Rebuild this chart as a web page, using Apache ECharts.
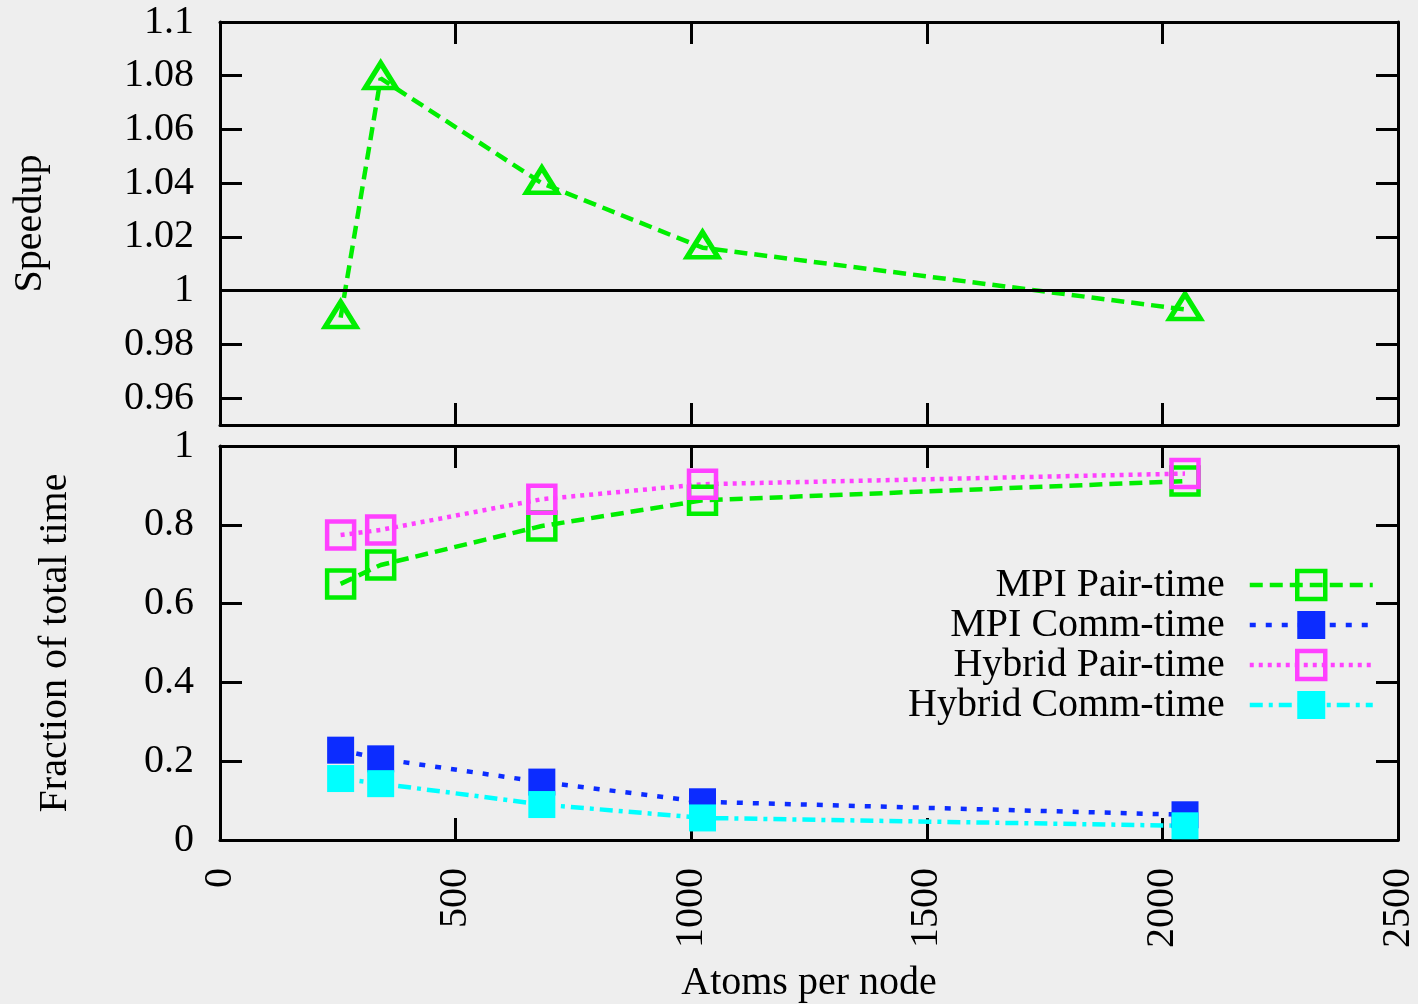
<!DOCTYPE html>
<html>
<head>
<meta charset="utf-8">
<script src="https://cdn.jsdelivr.net/npm/echarts@6/dist/echarts.min.js"></script>
<style>
html, body { margin: 0; padding: 0; background: #eeeeee; }
#chart { width: 1418px; height: 1004px; }
</style>
</head>
<body>
<div id="chart"></div>
<script>
// data
const atoms = [256, 341, 683, 1024, 2048];
const speedup = [0.990, 1.079, 1.040, 1.016, 0.993];
const mpiPair = [0.650, 0.698, 0.797, 0.862, 0.911];
const mpiComm = [0.228, 0.206, 0.147, 0.097, 0.064];
const hybridPair = [0.774, 0.787, 0.865, 0.903, 0.930];
const hybridComm = [0.156, 0.143, 0.090, 0.056, 0.036];
const speedupTicks = [0.96, 0.98, 1, 1.02, 1.04, 1.06, 1.08, 1.1];

const FONT = 'Liberation Serif';
const GREEN = '#00ee00', BLUE = '#0c2cff', MAGENTA = '#ff40ff', CYAN = '#00ffff';
const LW = 4.5;

const pairs = (ys) => atoms.map((x, i) => [x, ys[i]]);

const tick = { show: true, inside: true, length: 22, lineStyle: { color: '#000', width: 3 } };
const frame = { show: true, onZero: false, lineStyle: { color: '#000', width: 3 } };

function xAx(grid, pos, labels) {
  return {
    type: 'value', gridIndex: grid, position: pos, min: 0, max: 2500, interval: 500,
    axisLine: frame, axisTick: tick, splitLine: { show: false },
    axisLabel: labels ? {
      show: true, rotate: 90, margin: 28, fontFamily: FONT, fontSize: 40, color: '#000',
      formatter: (v) => String(v)
    } : { show: false },
    name: labels ? 'Atoms per node' : '', nameLocation: 'middle', nameGap: 123,
    nameTextStyle: { fontFamily: FONT, fontSize: 40, color: '#000' }
  };
}

const chart = echarts.init(document.getElementById('chart'), null, { renderer: 'canvas' });
chart.setOption({
  animation: false,
  backgroundColor: '#eeeeee',
  textStyle: { fontFamily: FONT },
  grid: [
    { left: 220, top: 22, width: 1178, height: 403 },
    { left: 220, top: 446, width: 1178, height: 394 }
  ],
  xAxis: [xAx(0, 'bottom', false), xAx(0, 'top', false), xAx(1, 'bottom', true), xAx(1, 'top', false)],
  yAxis: [
    {
      type: 'value', gridIndex: 0, position: 'left', min: 0.95, max: 1.1,
      axisLine: frame, splitLine: { show: false },
      axisTick: Object.assign({ customValues: speedupTicks }, tick),
      axisLabel: { customValues: speedupTicks, margin: 26, fontFamily: FONT, fontSize: 40, color: '#000' },
      name: 'Speedup', nameLocation: 'middle', nameRotate: 90, nameGap: 170,
      nameTextStyle: { fontFamily: FONT, fontSize: 40, color: '#000' }
    },
    {
      type: 'value', gridIndex: 0, position: 'right', min: 0.95, max: 1.1,
      axisLine: frame, splitLine: { show: false },
      axisTick: Object.assign({ customValues: speedupTicks }, tick),
      axisLabel: { show: false }
    },
    {
      type: 'value', gridIndex: 1, position: 'left', min: 0, max: 1, interval: 0.2,
      axisLine: frame, axisTick: tick, splitLine: { show: false },
      axisLabel: { margin: 26, fontFamily: FONT, fontSize: 40, color: '#000' },
      name: 'Fraction of total time', nameLocation: 'middle', nameRotate: 90, nameGap: 145,
      nameTextStyle: { fontFamily: FONT, fontSize: 40, color: '#000' }
    },
    {
      type: 'value', gridIndex: 1, position: 'right', min: 0, max: 1, interval: 0.2,
      axisLine: frame, axisTick: tick, splitLine: { show: false },
      axisLabel: { show: false }
    }
  ],
  legend: {
    orient: 'vertical', align: 'right', right: 43, top: 565, padding: 0,
    itemWidth: 123, itemHeight: 35, itemGap: 0,
    textStyle: { fontFamily: FONT, fontSize: 40, lineHeight: 40, color: '#000', padding: [0, 20, 0, 0] },
    data: [
      { name: 'MPI Pair-time', itemStyle: { borderWidth: LW }, lineStyle: { width: LW } },
      { name: 'MPI Comm-time', itemStyle: { borderWidth: 0 }, lineStyle: { width: LW } },
      { name: 'Hybrid Pair-time', itemStyle: { borderWidth: LW }, lineStyle: { width: LW } },
      { name: 'Hybrid Comm-time', itemStyle: { borderWidth: 0 }, lineStyle: { width: LW } }
    ]
  },
  series: [
    {
      name: 'Speedup', type: 'line', xAxisIndex: 0, yAxisIndex: 0,
      data: pairs(speedup),
      symbol: 'triangle', symbolSize: [31, 25], symbolOffset: [0, -3],
      itemStyle: { color: 'transparent', borderColor: GREEN, borderWidth: 5 },
      lineStyle: { color: GREEN, width: LW, type: [13, 7] },
      emphasis: { disabled: true },
      markLine: {
        silent: true, symbol: 'none', label: { show: false },
        lineStyle: { color: '#000', type: 'solid', width: 3 },
        data: [{ yAxis: 1 }]
      }
    },
    {
      name: 'MPI Pair-time', type: 'line', xAxisIndex: 2, yAxisIndex: 2,
      data: pairs(mpiPair),
      symbol: 'rect', symbolSize: 27,
      itemStyle: { color: 'transparent', borderColor: GREEN, borderWidth: LW },
      lineStyle: { color: GREEN, width: LW, type: [13, 7] },
      emphasis: { disabled: true }
    },
    {
      name: 'MPI Comm-time', type: 'line', xAxisIndex: 2, yAxisIndex: 2,
      data: pairs(mpiComm),
      symbol: 'rect', symbolSize: 27,
      itemStyle: { color: BLUE, borderWidth: 0 },
      lineStyle: { color: BLUE, width: LW, type: [6, 10] },
      emphasis: { disabled: true }
    },
    {
      name: 'Hybrid Pair-time', type: 'line', xAxisIndex: 2, yAxisIndex: 2,
      data: pairs(hybridPair),
      symbol: 'rect', symbolSize: 27,
      itemStyle: { color: 'transparent', borderColor: MAGENTA, borderWidth: LW },
      lineStyle: { color: MAGENTA, width: LW, type: [4, 5] },
      emphasis: { disabled: true }
    },
    {
      name: 'Hybrid Comm-time', type: 'line', xAxisIndex: 2, yAxisIndex: 2,
      data: pairs(hybridComm),
      symbol: 'rect', symbolSize: 27,
      itemStyle: { color: CYAN, borderWidth: 0 },
      lineStyle: { color: CYAN, width: LW, type: [13, 6, 4, 6] },
      emphasis: { disabled: true }
    }
  ]
});
</script>
</body>
</html>
